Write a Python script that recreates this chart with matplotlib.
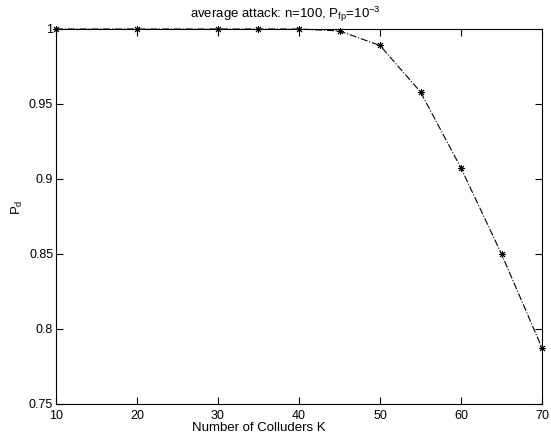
import matplotlib.pyplot as plt

plt.rcParams['font.family'] = ['Liberation Sans', 'DejaVu Sans']
plt.rcParams['mathtext.fontset'] = 'custom'
plt.rcParams['mathtext.rm'] = 'Liberation Sans'
plt.rcParams['mathtext.it'] = 'Liberation Sans'

colluders = [10, 20, 30, 35, 40, 45, 50, 55, 60, 65, 70]
pd_values = [1.0, 1.0, 1.0, 1.0, 1.0, 0.9987, 0.989, 0.958, 0.9073, 0.850, 0.7873]
x_ticks = [10, 20, 30, 40, 50, 60, 70]
y_ticks = [0.75, 0.8, 0.85, 0.9, 0.95, 1]
y_labels = ['0.75', '0.8', '0.85', '0.9', '0.95', '1']

fig = plt.figure(figsize=(5.51, 4.36), dpi=100)
ax = fig.add_axes([0.1016, 0.0734, 0.8821, 0.8601])

# asterisk markers joined by a dash-dot line
ax.plot(colluders, pd_values, color='black', linestyle='-.', linewidth=0.8,
        marker=(8, 2, 0), markersize=5, markeredgewidth=0.7,
        clip_on=False, zorder=3)

ax.set_xlim(10, 70)
ax.set_ylim(0.75, 1)
ax.set_xticks(x_ticks)
ax.set_yticks(y_ticks)
ax.set_yticklabels(y_labels)
ax.tick_params(direction='in', top=True, right=True, length=5, width=0.8,
               labelsize=9)
ax.tick_params(axis='x', pad=4)
ax.tick_params(axis='y', pad=2)
for spine in ax.spines.values():
    spine.set_linewidth(0.8)

# labels placed in figure pixels
W, H = 551, 436
fig.text(259 / W, 1 - 431 / H, 'Number of Colluders K', fontsize=9.5,
         ha='center', va='baseline')
fig.text(17 / W, 1 - 207 / H, r'P$_\mathrm{d}$', fontsize=9.5,
         rotation=90, ha='center', va='center')
fig.text(285 / W, 1 - 18 / H, r'average attack: n=100, P$_\mathrm{fp}$=10$^{-3}$',
         fontsize=9.5, ha='center', va='baseline')

fig.savefig('out.png', dpi=100)
